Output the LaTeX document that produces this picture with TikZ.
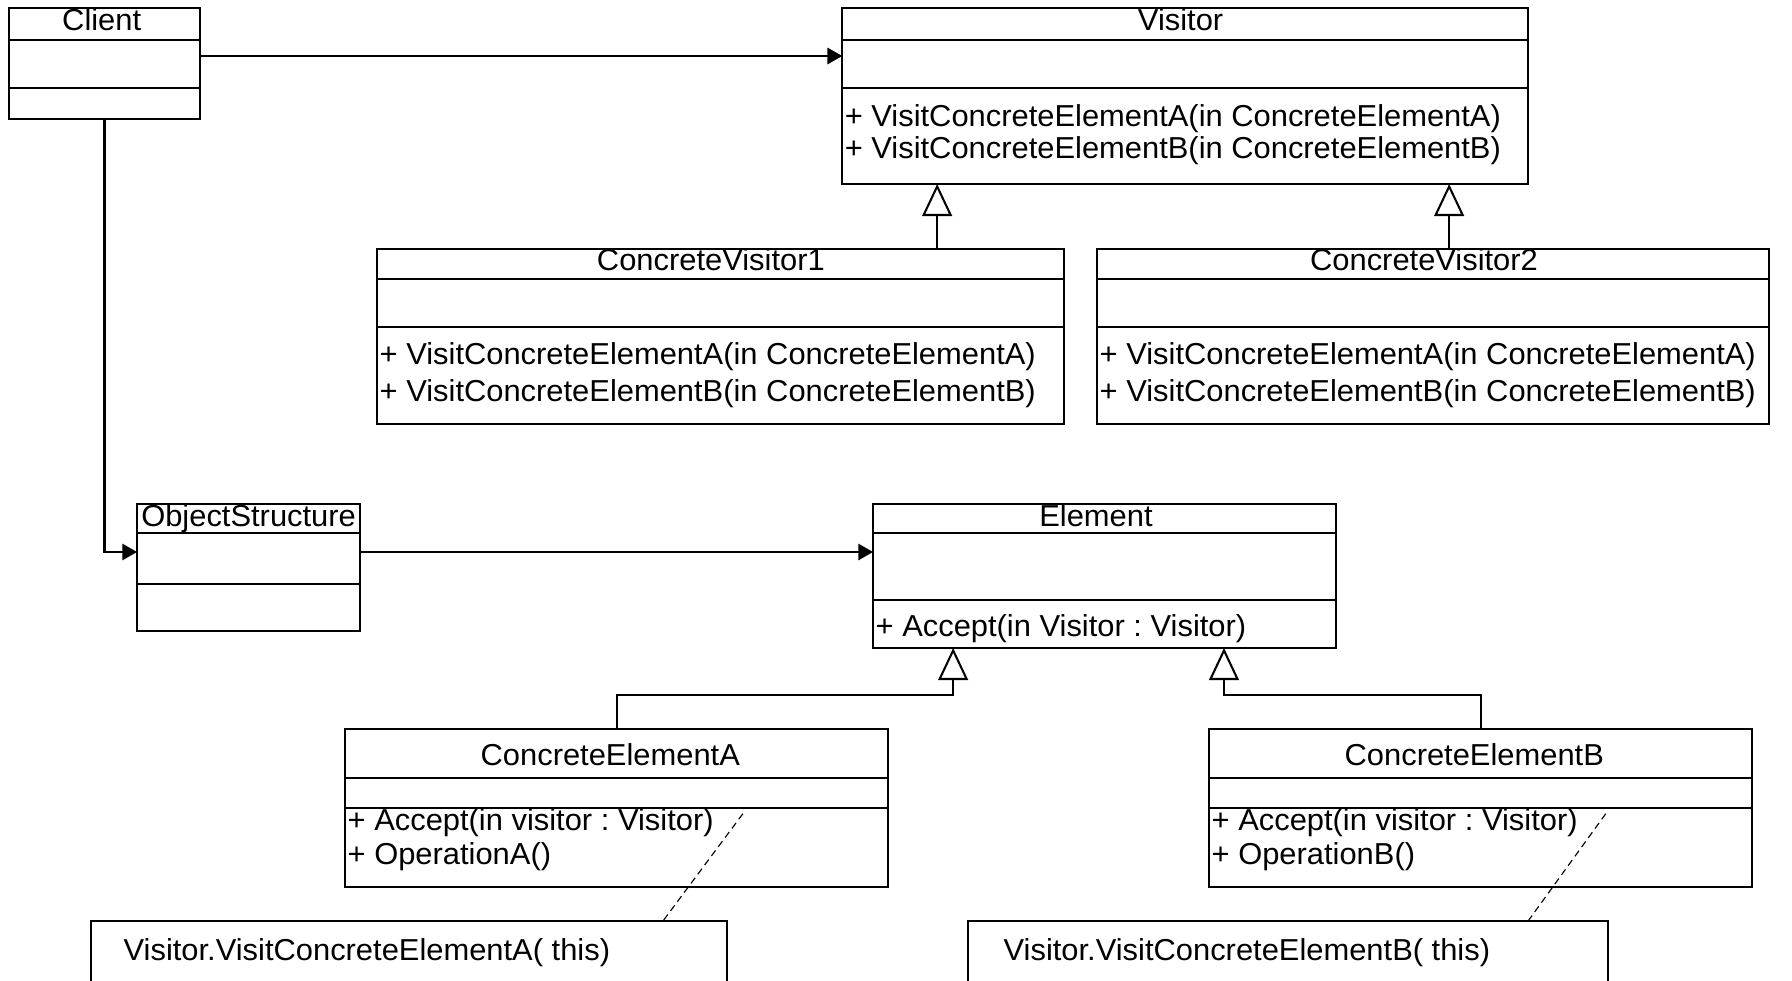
\documentclass[tikz,border=0pt]{standalone}
\usepackage{fontspec}
\setmainfont{Liberation Sans}[FakeStretch=1.02]
\usetikzlibrary{arrows.meta,calc}
\frenchspacing
\begin{document}
\begin{tikzpicture}[x=1pt,y=-1pt,
  font=\fontsize{26.5}{30}\selectfont,
  cls/.style={draw, line width=1.8pt, inner sep=0pt, outer sep=0pt, anchor=north west},
  sepline/.style={line width=1.8pt},
  ttl/.style={anchor=base, inner sep=0pt},
  meth/.style={anchor=base west, inner sep=0pt},
  assoc/.style={line width=2.6pt, -{Triangle[length=13pt,width=14pt]}},
  gen/.style={line width=1.8pt, -{Triangle[open,length=28pt,width=26pt,fill=white]}},
  notebox/.style={draw, line width=1.8pt, inner sep=0pt, outer sep=0pt, anchor=north west},
  noteline/.style={line width=1pt, dash pattern=on 6pt off 4pt}
]
\useasboundingbox (0,0) rectangle (1568,857.5);
\clip (0,0) rectangle (1568,857.5);

% Client
\node[cls, minimum width=167pt, minimum height=97pt] (client) at (8,7) {};
\draw[sepline] ([yshift=-28pt]client.north west) -- ([yshift=-28pt]client.north east);
\draw[sepline] ([yshift=-70pt]client.north west) -- ([yshift=-70pt]client.north east);
\node[ttl] (clientT) at (89,27) {Client};

% Visitor
\node[cls, minimum width=600pt, minimum height=154pt] (visitor) at (737,7) {};
\draw[sepline] ([yshift=-28pt]visitor.north west) -- ([yshift=-28pt]visitor.north east);
\draw[sepline] ([yshift=-70pt]visitor.north west) -- ([yshift=-70pt]visitor.north east);
\node[ttl] (visitorT) at (1033,27) {Visitor};
\node[meth] (visitorM1) at (739,111) {+ VisitConcreteElementA(in ConcreteElementA)};
\node[meth] (visitorM2) at (739,139) {+ VisitConcreteElementB(in ConcreteElementB)};

% ConcreteVisitor1
\node[cls, minimum width=601pt, minimum height=153pt] (cv1) at (330,218) {};
\draw[sepline] ([yshift=-26pt]cv1.north west) -- ([yshift=-26pt]cv1.north east);
\draw[sepline] ([yshift=-68pt]cv1.north west) -- ([yshift=-68pt]cv1.north east);
\node[ttl] (cv1T) at (622,237) {ConcreteVisitor1};
\node[meth] (cv1M1) at (332,319) {+ VisitConcreteElementA(in ConcreteElementA)};
\node[meth] (cv1M2) at (332,351) {+ VisitConcreteElementB(in ConcreteElementB)};

% ConcreteVisitor2
\node[cls, minimum width=588pt, minimum height=153pt] (cv2) at (960,218) {};
\draw[sepline] ([yshift=-26pt]cv2.north west) -- ([yshift=-26pt]cv2.north east);
\draw[sepline] ([yshift=-68pt]cv2.north west) -- ([yshift=-68pt]cv2.north east);
\node[ttl] (cv2T) at (1246,237) {ConcreteVisitor2};
\node[meth] (cv2M1) at (962,319) {+ VisitConcreteElementA(in ConcreteElementA)};
\node[meth] (cv2M2) at (962,351) {+ VisitConcreteElementB(in ConcreteElementB)};

% ObjectStructure
\node[cls, minimum width=195pt, minimum height=111pt] (os) at (120,441) {};
\draw[sepline] ([yshift=-25pt]os.north west) -- ([yshift=-25pt]os.north east);
\draw[sepline] ([yshift=-70pt]os.north west) -- ([yshift=-70pt]os.north east);
\node[ttl] (osT) at (217.5,461) {ObjectStructure};

% Element
\node[cls, minimum width=405pt, minimum height=126pt] (element) at (764,441) {};
\draw[sepline] ([yshift=-25pt]element.north west) -- ([yshift=-25pt]element.north east);
\draw[sepline] ([yshift=-84pt]element.north west) -- ([yshift=-84pt]element.north east);
\node[ttl] (elementT) at (959,461) {Element};
\node[meth] (elementM1) at (766,557) {+ Accept(in Visitor : Visitor)};

% ConcreteElementA
\node[cls, minimum width=475pt, minimum height=138pt] (cea) at (302,638) {};
\draw[sepline] ([yshift=-43pt]cea.north west) -- ([yshift=-43pt]cea.north east);
\draw[sepline] ([yshift=-69pt]cea.north west) -- ([yshift=-69pt]cea.north east);
\node[ttl] (ceaT) at (534,670) {ConcreteElementA};
\node[meth] (ceaM1) at (304,727) {+ Accept(in visitor : Visitor)};
\node[meth] (ceaM2) at (304,756) {+ OperationA()};

% ConcreteElementB
\node[cls, minimum width=475pt, minimum height=138pt] (ceb) at (1058,638) {};
\draw[sepline] ([yshift=-43pt]ceb.north west) -- ([yshift=-43pt]ceb.north east);
\draw[sepline] ([yshift=-69pt]ceb.north west) -- ([yshift=-69pt]ceb.north east);
\node[ttl] (cebT) at (1290,670) {ConcreteElementB};
\node[meth] (cebM1) at (1060,727) {+ Accept(in visitor : Visitor)};
\node[meth] (cebM2) at (1060,756) {+ OperationB()};

% Notes
\node[notebox, minimum width=556pt, minimum height=90pt] (noteA) at (80,806) {};
\node[meth] (noteAT) at (108,840) {Visitor.VisitConcreteElementA( this)};
\node[notebox, minimum width=560pt, minimum height=90pt] (noteB) at (847,806) {};
\node[meth] (noteBT) at (878,840) {Visitor.VisitConcreteElementB( this)};

% Associations
\draw[assoc] ([yshift=6.5pt]client.east) -- ([yshift=6.5pt]client.east -| visitor.west);
\draw[assoc] (client.south) |- ([yshift=13.5pt]os.west);
\draw[assoc] ([yshift=13.5pt]os.east) -- ([yshift=13.5pt]os.east -| element.west);

% Generalizations
\draw[gen] ([xshift=189.5pt]cv1.north) -- ([xshift=189.5pt]cv1.north |- visitor.south);
\draw[gen] ([xshift=14pt]cv2.north) -- ([xshift=14pt]cv2.north |- visitor.south);
\draw[gen] (cea.north) |- ([xshift=-132.5pt,yshift=-41pt]element.south) -- ([xshift=-132.5pt]element.south);
\draw[gen] (ceb.north) |- ([xshift=104.5pt,yshift=-41pt]element.south) -- ([xshift=104.5pt]element.south);

% Note links
\coordinate (ceaLink) at (650,712);
\coordinate (cebLink) at (1405,712);
\draw[noteline] (ceaLink) -- ([xshift=500pt]noteA.north west);
\draw[noteline] (cebLink) -- ([xshift=490pt]noteB.north west);
\end{tikzpicture}
\end{document}
